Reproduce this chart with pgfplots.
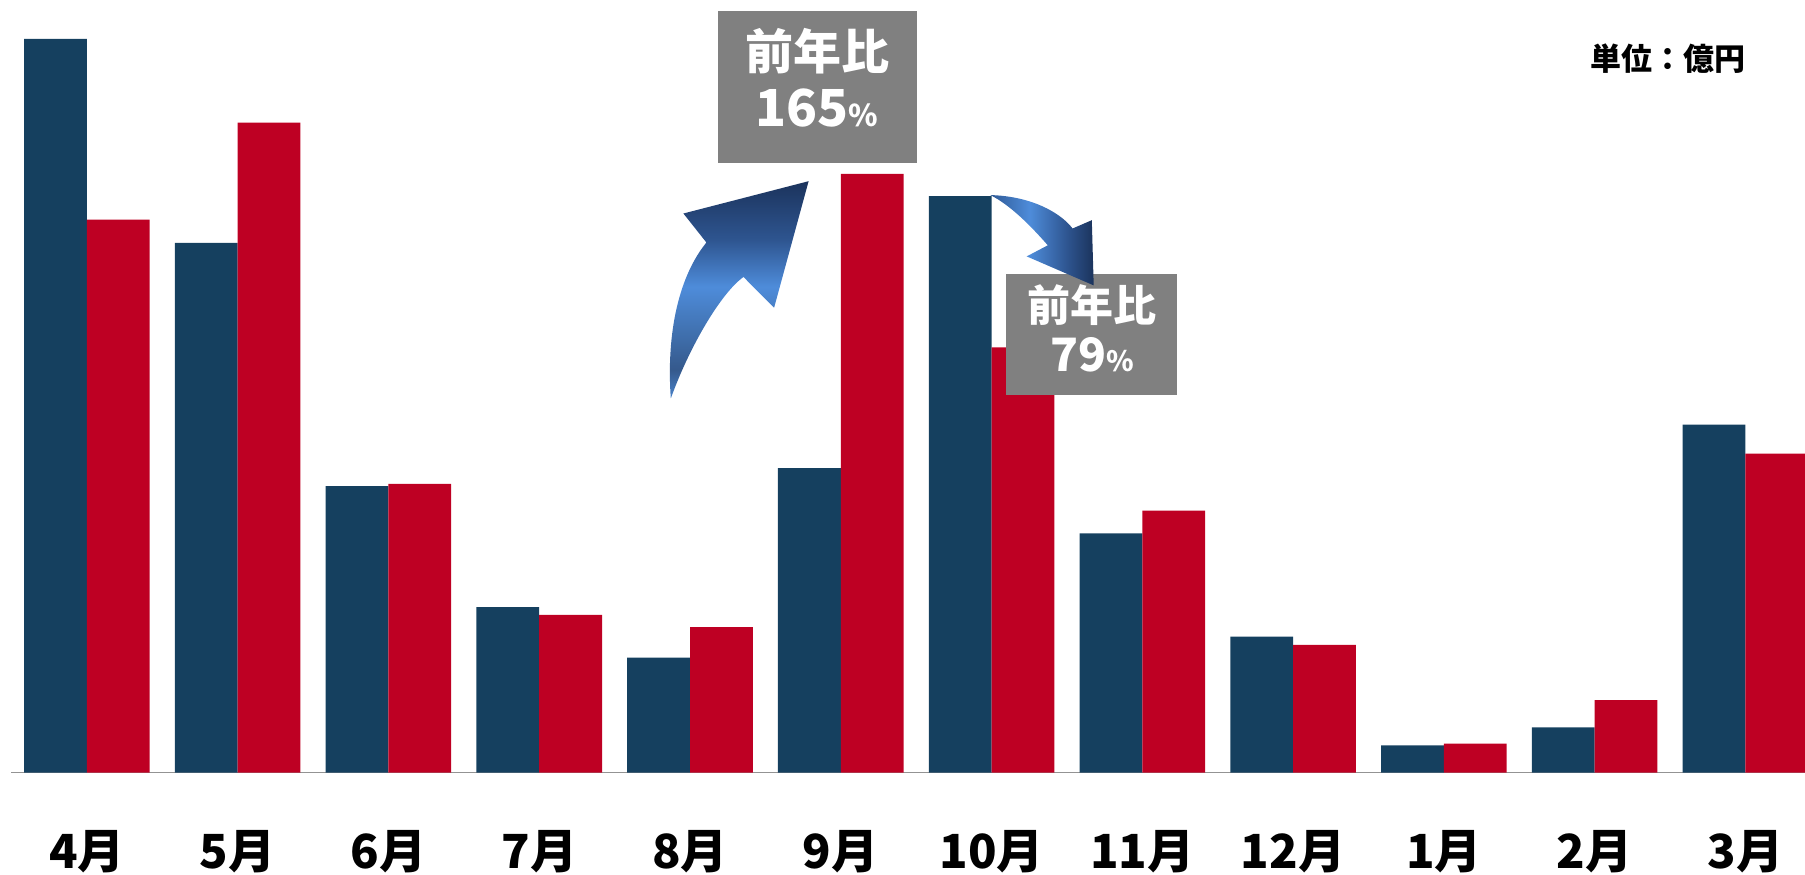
\documentclass[border=0pt]{standalone}
\usepackage{pgfplots}
\pgfplotsset{compat=1.18}
\usepackage{fontspec}
\setmainfont{Noto Sans CJK JP}
\definecolor{navy}{HTML}{15405F}
\definecolor{crimson}{HTML}{BE0023}
\definecolor{boxgray}{HTML}{808080}
\definecolor{arA}{HTML}{4A84CC}
\definecolor{arB}{HTML}{35598C}
\definecolor{arC}{HTML}{3E6CA8}
\definecolor{arD}{HTML}{4E8CDA}
\definecolor{arE}{HTML}{2E5590}
\definecolor{arF}{HTML}{1B335C}
\definecolor{arG}{HTML}{2F5A96}
% arrow gradients (25bp..75bp spans the path's bounding box)
\pgfdeclareverticalshading{risearrow}{100bp}{
  color(0bp)=(arA); color(25bp)=(arA);
  color(31.6bp)=(arB); color(38.5bp)=(arC);
  color(50.7bp)=(arD); color(61.5bp)=(arE);
  color(75bp)=(arF); color(100bp)=(arF)}
\pgfdeclarehorizontalshading{fallarrow}{100bp}{
  color(0bp)=(arG); color(25bp)=(arG);
  color(44bp)=(arD); color(62bp)=(arE);
  color(75bp)=(arF); color(100bp)=(arF)}

\begin{document}
\begin{tikzpicture}
% page = 1805 x 874 px at 0.5pt per px
\useasboundingbox (0,0) rectangle (902.5pt,437pt);
\begin{axis}[
  at={(5.75pt,50.7pt)}, anchor=south west,
  scale only axis, width=896.75pt, height=386.3pt,
  xmin=-0.5, xmax=11.395, ymin=0, ymax=772.6,
  axis x line*=bottom, axis y line=none,
  x axis line style={-, draw=gray!85, line width=0.8pt},
  xtick={0,...,11},
  xticklabels={4月,5月,6月,7月,8月,9月,10月,11月,12月,1月,2月,3月},
  xticklabel style={font=\bfseries\fontsize{23.5}{23.5}\selectfont, anchor=base, yshift=-47.7pt},
  ytick=\empty, major tick length=0pt,
]
  % previous year
  \addplot[ybar, bar width=0.4165, bar shift=-0.20825, fill=navy, draw=none] coordinates {
    (0,733.6) (1,529.6) (2,286.5) (3,165.6) (4,114.9) (5,304.4)
    (6,576.4) (7,239.2) (8,136.0) (9,27.3) (10,45.2) (11,347.9)
  };
  % current year
  \addplot[ybar, bar width=0.4165, bar shift=0.20825, fill=crimson, draw=none] coordinates {
    (0,553.0) (1,650.0) (2,288.8) (3,157.8) (4,145.5) (5,598.7)
    (6,425.3) (7,262.0) (8,127.7) (9,29.0) (10,72.5) (11,318.9)
  };
\end{axis}

% annotations in pixel coordinates, origin at top left
\begin{scope}[x=0.5pt, y=-0.5pt, shift={(0,437pt)}]
  \node[font=\bfseries\fontsize{15.5}{15.5}\selectfont] at (1668,58.5) {単位：億円};

  % rising arrow
  \shade[shading=risearrow]
    (670.8,398.5) .. controls (666,330) and (680,275) .. (706.4,242.5)
    -- (683.4,213.5) -- (808.6,181.2) -- (774.1,307.7) -- (743.5,277)
    .. controls (722,292) and (690,345) .. cycle;
  \fill[boxgray] (717.9,11.1) rectangle (916.9,162.8);
  \node[align=center, text=white, font=\bfseries\fontsize{24}{28.5}\selectfont]
    at (817,78) {前年比\\{\fontsize{25.5}{25.5}\selectfont 165}{\fontsize{15}{15}\selectfont\%}};

  % falling arrow
  \fill[boxgray] (1005.7,274.2) rectangle (1177.1,394.6);
  \shade[shading=fallarrow]
    (990.4,195.1) .. controls (1030,196) and (1060,212) .. (1072.6,228.5)
    -- (1091.8,220.2) -- (1093.7,285.4) -- (1026.7,256.4) -- (1047.8,245.3)
    .. controls (1030,225) and (1010,205) .. cycle;
  \node[align=center, text=white, font=\bfseries\fontsize{21.5}{25}\selectfont]
    at (1092,328) {前年比\\{\fontsize{23}{23}\selectfont 79}{\fontsize{14}{14}\selectfont\%}};
\end{scope}
\end{tikzpicture}
\end{document}
